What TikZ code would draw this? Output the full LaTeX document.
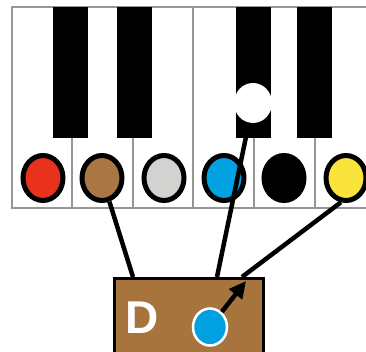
\documentclass[tikz,border=0pt]{standalone}
\usepackage{fontspec}
\setmainfont{Liberation Sans}
\usetikzlibrary{shapes.geometric, arrows.meta}

\definecolor{keygray}{RGB}{150,150,150}
\definecolor{dotred}{RGB}{232,50,28}
\definecolor{dotbrown}{RGB}{170,118,68}
\definecolor{dotgrey}{RGB}{210,210,208}
\definecolor{dotblue}{RGB}{0,160,225}
\definecolor{dotyellow}{RGB}{250,228,60}
\definecolor{boxbrown}{RGB}{168,116,62}

\begin{document}
\begin{tikzpicture}[x=1pt, y=-1pt,
    keyline/.style={draw=keygray, line width=2pt},
    dot/.style={ellipse, draw=black, line width=5pt, minimum width=40pt, minimum height=45pt, inner sep=0pt},
    wire/.style={draw=black, line width=4.5pt}]

    \useasboundingbox (0,0) rectangle (366,351);
    \clip (0,0) rectangle (366,351);

    % ------------------ Keyboard ------------------

    % white keys
    \fill[white] (12,7) rectangle (380,208);
    \foreach \x in {72,133,193,254,315}
        \draw[keyline] (\x,7) -- (\x,208);
    \draw[keyline] (380,7) -- (12,7) -- (12,208) -- (380,208);

    % black keys
    \foreach \x in {53,117,236,297}
        \fill[black] (\x,7) rectangle ++(35,131);

    % pressed black key
    \node[ellipse, fill=white, minimum width=38pt, minimum height=40pt, inner sep=0pt] (sharp) at (253,103) {};

    % ------------------ Colour dots ------------------

    \node[dot, fill=dotred] (nRed) at (43,178) {};
    \node[dot, fill=dotbrown] (nBrown) at (102,178) {};
    \node[dot, fill=dotgrey] (nGrey) at (164,178) {};
    \node[dot, fill=dotblue] (nBlue) at (224,178) {};
    \node[dot, fill=black] (nInk) at (284,178) {};
    \node[dot, fill=dotyellow] (nYellow) at (346,178) {};

    % ------------------ Box ------------------

    \node[draw=black, line width=3pt, fill=boxbrown, inner sep=0pt, minimum width=149pt, minimum height=90pt, anchor=north west] (box) at (113,277) {};
    \node[text=white, font=\fontsize{46}{46}\selectfont\bfseries] (label) at (142,318) {D};
    \node[ellipse, draw=white, line width=2.5pt, fill=dotblue, minimum width=34pt, minimum height=37pt, inner sep=0pt] (token) at (210,327) {};

    \coordinate (inA) at (133,277);
    \coordinate (inB) at (217,277);
    \coordinate (inC) at (242,277);
    \coordinate (aim) at (246,281);

    % Wires
    \draw[wire] (nBrown) -- (inA);
    \draw[wire] (sharp) -- (inB);
    \draw[wire] (nYellow.258) -- (inC);
    \draw[wire, -{Triangle[length=17pt, width=16pt]}] (token) -- (aim);

\end{tikzpicture}
\end{document}
